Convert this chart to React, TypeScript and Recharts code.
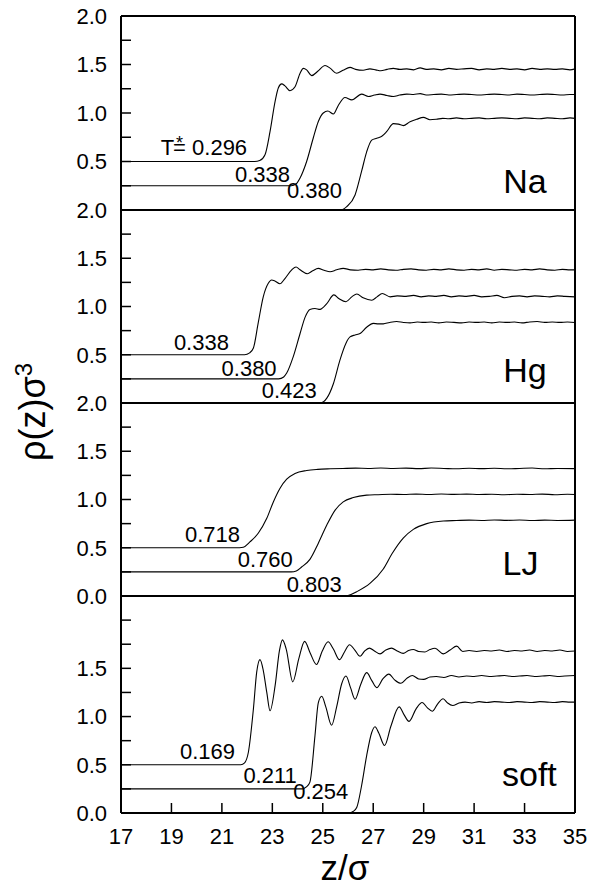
import { LineChart, Line, XAxis, YAxis, ReferenceDot, ReferenceLine } from "recharts";

type Pt = [number, number];

const zTicks = [17, 19, 21, 23, 25, 27, 29, 31, 33, 35];
const rhoTicks = [0, 0.25, 0.5, 0.75, 1, 1.25, 1.5, 1.75, 2];
const rhoTicksSoft = [0, 0.25, 0.5, 0.75, 1, 1.25, 1.5, 1.75, 2, 2.25];
const rhoLabelled = [
  [0.5, 1, 1.5, 2],
  [0.5, 1, 1.5, 2],
  [0, 0.5, 1, 1.5, 2],
  [0, 0.5, 1, 1.5],
];

// Na
const naT0296: Pt[] = [
  [17, 0.5], [22.3, 0.5], [22.5, 0.51], [22.71, 0.57], [22.91, 0.81], [23.11, 1.12], [23.24, 1.26], [23.37, 1.3],
  [23.5, 1.28], [23.7, 1.23], [23.9, 1.27], [24.1, 1.41], [24.23, 1.46], [24.36, 1.445], [24.56, 1.385], [24.8, 1.43],
  [25.09, 1.49], [25.3, 1.46], [25.55, 1.41], [25.8, 1.44], [26.08, 1.47], [26.3, 1.45], [26.6, 1.44], [26.87, 1.455],
  [27.1, 1.445], [27.3, 1.435], [27.55, 1.45], [27.8, 1.46], [28.05, 1.45], [28.33, 1.455], [28.6, 1.445], [28.86, 1.465],
  [29.1, 1.45], [29.4, 1.455], [29.7, 1.445], [30.0, 1.46], [30.3, 1.45], [30.6, 1.455], [30.9, 1.46], [31.2, 1.445],
  [31.5, 1.455], [31.8, 1.45], [32.1, 1.46], [32.4, 1.45], [32.7, 1.455], [33.0, 1.445], [33.3, 1.46], [33.6, 1.45],
  [33.9, 1.455], [34.2, 1.45], [34.5, 1.455], [34.8, 1.445], [35, 1.455],
];
const naT0338: Pt[] = [
  [17, 0.25], [23.75, 0.25], [23.95, 0.27], [24.1, 0.33], [24.36, 0.5], [24.62, 0.74], [24.82, 0.91], [25.02, 1.0],
  [25.2, 1.02], [25.42, 0.99], [25.62, 1.08], [25.88, 1.16], [26.15, 1.135], [26.54, 1.195], [26.81, 1.17], [27.05, 1.185],
  [27.27, 1.195], [27.55, 1.18], [27.8, 1.17], [28.05, 1.185], [28.33, 1.195], [28.6, 1.19], [28.86, 1.2], [29.1, 1.185],
  [29.4, 1.19], [29.7, 1.195], [30.0, 1.185], [30.3, 1.19], [30.6, 1.195], [30.9, 1.19], [31.2, 1.185], [31.5, 1.19],
  [31.8, 1.195], [32.1, 1.19], [32.4, 1.185], [32.7, 1.195], [33.0, 1.19], [33.3, 1.185], [33.6, 1.19], [33.9, 1.195],
  [34.2, 1.19], [34.5, 1.185], [34.8, 1.19], [35, 1.19],
];
const naT0380: Pt[] = [
  [17, 0], [25.7, 0], [25.95, 0.035], [26.28, 0.155], [26.54, 0.4], [26.74, 0.6], [26.94, 0.72], [27.14, 0.74],
  [27.34, 0.76], [27.54, 0.81], [27.8, 0.89], [28.0, 0.885], [28.19, 0.87], [28.46, 0.91], [28.72, 0.935], [28.99, 0.955],
  [29.25, 0.93], [29.5, 0.935], [29.75, 0.945], [30.0, 0.94], [30.3, 0.95], [30.6, 0.94], [30.9, 0.945], [31.2, 0.95],
  [31.5, 0.94], [31.8, 0.945], [32.1, 0.95], [32.4, 0.945], [32.7, 0.94], [33.0, 0.95], [33.3, 0.945], [33.6, 0.94],
  [33.9, 0.95], [34.2, 0.945], [34.5, 0.94], [34.8, 0.95], [35, 0.945],
];

// Hg
const hgT0338: Pt[] = [
  [17, 0.5], [21.9, 0.5], [22.1, 0.52], [22.25, 0.57], [22.44, 0.83], [22.64, 1.1], [22.84, 1.24], [22.97, 1.275],
  [23.1, 1.265], [23.3, 1.235], [23.5, 1.29], [23.77, 1.38], [23.94, 1.41], [24.1, 1.38], [24.39, 1.34], [24.6, 1.37],
  [24.82, 1.395], [25.05, 1.375], [25.29, 1.36], [25.55, 1.38], [25.81, 1.395], [26.1, 1.38], [26.4, 1.375], [26.7, 1.385],
  [27.0, 1.38], [27.3, 1.39], [27.6, 1.38], [27.9, 1.375], [28.2, 1.385], [28.5, 1.39], [28.8, 1.38], [29.1, 1.375],
  [29.4, 1.385], [29.7, 1.38], [30.0, 1.39], [30.3, 1.38], [30.6, 1.375], [30.9, 1.385], [31.2, 1.38], [31.5, 1.39],
  [31.8, 1.375], [32.1, 1.385], [32.4, 1.38], [32.7, 1.375], [33.0, 1.385], [33.3, 1.38], [33.6, 1.39], [33.9, 1.38],
  [34.2, 1.375], [34.5, 1.385], [34.8, 1.38], [35, 1.38],
];
const hgT0380: Pt[] = [
  [17, 0.25], [23.25, 0.25], [23.45, 0.27], [23.57, 0.31], [23.83, 0.48], [24.1, 0.72], [24.3, 0.89], [24.49, 0.97],
  [24.69, 0.98], [24.89, 0.97], [25.16, 1.03], [25.44, 1.12], [25.65, 1.08], [25.92, 1.05], [26.15, 1.1], [26.35, 1.13],
  [26.6, 1.09], [26.94, 1.065], [27.15, 1.1], [27.36, 1.135], [27.67, 1.1], [27.95, 1.11], [28.3, 1.105], [28.6, 1.115],
  [28.9, 1.1], [29.2, 1.11], [29.5, 1.105], [29.8, 1.115], [30.1, 1.1], [30.4, 1.11], [30.7, 1.105], [31.0, 1.115],
  [31.3, 1.1], [31.6, 1.105], [31.9, 1.115], [32.2, 1.09], [32.5, 1.105], [32.8, 1.11], [33.1, 1.1], [33.4, 1.11],
  [33.7, 1.105], [34.0, 1.1], [34.3, 1.11], [34.6, 1.105], [35, 1.1],
];
const hgT0423: Pt[] = [
  [17, 0], [24.9, 0], [25.16, 0.05], [25.42, 0.2], [25.68, 0.445], [25.92, 0.62], [26.08, 0.685], [26.28, 0.705],
  [26.48, 0.72], [26.74, 0.785], [27.0, 0.825], [27.2, 0.82], [27.4, 0.82], [27.65, 0.835], [27.93, 0.845], [28.2, 0.835],
  [28.46, 0.83], [28.75, 0.84], [29.0, 0.835], [29.3, 0.84], [29.6, 0.83], [29.9, 0.84], [30.2, 0.835], [30.5, 0.83],
  [30.8, 0.84], [31.1, 0.835], [31.4, 0.84], [31.7, 0.83], [32.0, 0.84], [32.3, 0.835], [32.6, 0.84], [32.9, 0.83],
  [33.2, 0.84], [33.5, 0.845], [33.8, 0.835], [34.1, 0.84], [34.4, 0.835], [34.7, 0.84], [35, 0.835],
];

// LJ
const ljT0718: Pt[] = [
  [17, 0.5], [21.7, 0.5], [21.85, 0.505], [22.11, 0.56], [22.44, 0.65], [22.78, 0.805], [23.04, 0.975], [23.3, 1.115],
  [23.57, 1.21], [23.9, 1.27], [24.36, 1.3], [24.8, 1.312], [25.3, 1.318], [25.8, 1.322], [26.3, 1.325], [26.8, 1.322],
  [27.3, 1.326], [27.8, 1.322], [28.3, 1.325], [28.8, 1.32], [29.3, 1.326], [29.8, 1.322], [30.3, 1.318], [30.8, 1.324],
  [31.3, 1.32], [31.8, 1.324], [32.3, 1.318], [32.8, 1.322], [33.3, 1.326], [33.8, 1.318], [34.3, 1.322], [35, 1.32],
];
const ljT0760: Pt[] = [
  [17, 0.25], [23.75, 0.25], [23.95, 0.26], [24.16, 0.3], [24.49, 0.38], [24.82, 0.545], [25.16, 0.735], [25.49, 0.89],
  [25.81, 0.975], [26.21, 1.02], [26.74, 1.045], [27.2, 1.05], [27.7, 1.055], [28.2, 1.052], [28.7, 1.056], [29.2, 1.052],
  [29.7, 1.057], [30.2, 1.053], [30.7, 1.056], [31.2, 1.052], [31.7, 1.055], [32.2, 1.05], [32.7, 1.054], [33.2, 1.052],
  [33.7, 1.056], [34.2, 1.05], [34.7, 1.055], [35, 1.052],
];
const ljT0803: Pt[] = [
  [17, 0], [25.8, 0], [26.0, 0.005], [26.35, 0.045], [26.87, 0.13], [27.4, 0.28], [27.75, 0.44], [28.19, 0.6],
  [28.59, 0.69], [29.12, 0.75], [29.78, 0.777], [30.3, 0.782], [30.8, 0.786], [31.3, 0.783], [31.8, 0.788], [32.3, 0.784],
  [32.8, 0.787], [33.3, 0.782], [33.8, 0.786], [34.3, 0.783], [35, 0.786],
];

// soft
const softT0169: Pt[] = [
  [17, 0.5], [21.75, 0.5], [21.9, 0.52], [22.05, 0.63], [22.25, 1.08], [22.38, 1.46], [22.51, 1.59], [22.64, 1.48],
  [22.78, 1.25], [22.91, 1.06], [23.11, 1.32], [23.28, 1.68], [23.4, 1.795], [23.55, 1.7], [23.81, 1.36], [24.05, 1.6],
  [24.28, 1.78], [24.5, 1.66], [24.75, 1.54], [24.98, 1.68], [25.21, 1.775], [25.42, 1.7], [25.66, 1.59], [25.86, 1.67],
  [26.06, 1.745], [26.27, 1.69], [26.48, 1.625], [26.66, 1.68], [26.85, 1.71], [27.05, 1.68], [27.27, 1.65], [27.5, 1.69],
  [27.73, 1.71], [27.95, 1.68], [28.19, 1.655], [28.4, 1.685], [28.59, 1.695], [28.8, 1.675], [29.05, 1.67], [29.25, 1.695],
  [29.45, 1.708], [29.78, 1.65], [30.05, 1.69], [30.31, 1.73], [30.55, 1.675], [30.8, 1.685], [31.1, 1.675], [31.4, 1.685],
  [31.7, 1.68], [32.0, 1.69], [32.3, 1.675], [32.6, 1.685], [32.9, 1.68], [33.2, 1.69], [33.5, 1.675], [33.8, 1.685],
  [34.1, 1.68], [34.4, 1.69], [34.7, 1.675], [35, 1.68],
];
const softT0211: Pt[] = [
  [17, 0.25], [24.2, 0.25], [24.35, 0.27], [24.49, 0.32], [24.69, 0.8], [24.82, 1.14], [24.96, 1.21], [25.12, 1.1],
  [25.35, 0.91], [25.55, 1.1], [25.75, 1.34], [25.92, 1.42], [26.1, 1.3], [26.28, 1.18], [26.5, 1.33], [26.74, 1.455],
  [26.95, 1.37], [27.14, 1.3], [27.38, 1.39], [27.62, 1.44], [27.85, 1.38], [28.1, 1.345], [28.35, 1.4], [28.55, 1.425],
  [28.8, 1.39], [29.0, 1.385], [29.25, 1.41], [29.5, 1.415], [29.8, 1.405], [30.1, 1.425], [30.4, 1.41], [30.7, 1.42],
  [31.0, 1.415], [31.3, 1.425], [31.6, 1.415], [31.9, 1.42], [32.2, 1.425], [32.5, 1.415], [32.8, 1.42], [33.1, 1.425],
  [33.4, 1.415], [33.7, 1.42], [34.0, 1.425], [34.3, 1.415], [34.6, 1.42], [35, 1.425],
];
const softT0254: Pt[] = [
  [17, 0], [26.05, 0], [26.2, 0.015], [26.35, 0.06], [26.54, 0.285], [26.74, 0.595], [26.94, 0.835], [27.07, 0.895],
  [27.22, 0.83], [27.45, 0.7], [27.7, 0.9], [28.03, 1.1], [28.22, 1.02], [28.42, 0.95], [28.7, 1.08], [28.94, 1.145],
  [29.15, 1.09], [29.34, 1.055], [29.55, 1.13], [29.77, 1.185], [29.95, 1.14], [30.15, 1.115], [30.4, 1.14], [30.64, 1.15],
  [30.9, 1.14], [31.2, 1.155], [31.5, 1.145], [31.8, 1.155], [32.1, 1.15], [32.4, 1.145], [32.7, 1.155], [33.0, 1.15],
  [33.3, 1.145], [33.6, 1.155], [33.9, 1.15], [34.2, 1.145], [34.5, 1.155], [34.8, 1.15], [35, 1.15],
];

const panelNames = ["Na", "Hg", "LJ", "soft"];
const panelCurves = [
  [naT0296, naT0338, naT0380],
  [hgT0338, hgT0380, hgT0423],
  [ljT0718, ljT0760, ljT0803],
  [softT0169, softT0211, softT0254],
];
const tempLabels = [
  ["0.296", "0.338", "0.380"],
  ["0.338", "0.380", "0.423"],
  ["0.718", "0.760", "0.803"],
  ["0.169", "0.211", "0.254"],
];
// right end / baseline of each temperature label, in (z, rho)
const tempLabelAt: Pt[][] = [
  [[22.0, 0.567], [23.7, 0.292], [25.76, 0.124]],
  [[21.28, 0.55], [23.17, 0.28], [24.76, 0.05]],
  [[21.72, 0.556], [23.81, 0.3], [25.75, 0.045]],
  [[21.52, 0.56], [23.97, 0.31], [26.01, 0.147]],
];
const nameAt: Pt[] = [[33.88, 0.18], [33.88, 0.22], [33.55, 0.22], [34.28, 0.28]];

const FONT = "'Liberation Sans', Arial, Helvetica, sans-serif";
const W = 597;
const PAD = 20;
const LAYOUT = [
  { top: 16, height: 194 },
  { top: 210, height: 193 },
  { top: 403, height: 193 },
  { top: 596, height: 217 },
];
const frame = { stroke: "#000", strokeWidth: 2 };
const tickLn = { stroke: "#000", strokeWidth: 1.5 };
const tickFont = { fill: "#000", fontSize: 22, fontFamily: FONT };

function TempLabel({ cx, cy, text, withT }: { cx: number; cy: number; text: string; withT: boolean }) {
  return (
    <text x={cx} y={cy} textAnchor="end" fontSize={22} fontFamily={FONT} fill="#000">
      {withT ? (
        <>
          <tspan>T</tspan>
          <tspan dx={2} dy={-6} fontSize={18}>*</tspan>
          <tspan dx={-10} dy={6}>{"= " + text}</tspan>
        </>
      ) : (
        text
      )}
    </text>
  );
}

function Panel({ idx }: { idx: number }) {
  const lay = LAYOUT[idx];
  const first = idx === 0;
  const last = idx === 3;
  const top = last ? 2.25 : 2;
  const ticks = last ? rhoTicksSoft : rhoTicks;
  const shown = rhoLabelled[idx];
  const xh = last ? 60 : 0;
  return (
    <div style={{ position: "absolute", left: 0, top: lay.top - PAD }}>
      <LineChart
        width={W}
        height={lay.height + 2 * PAD + xh}
        margin={{ top: PAD, right: 22, bottom: PAD, left: 61 }}
      >
        <XAxis
          dataKey="z"
          type="number"
          domain={[17, 35]}
          ticks={zTicks}
          interval={0}
          height={xh}
          stroke="#000"
          axisLine={frame}
          tickLine={last ? tickLn : false}
          tick={last ? tickFont : false}
          tickSize={-10}
          tickMargin={25}
        />
        {first && (
          <XAxis
            xAxisId="top"
            orientation="top"
            type="number"
            domain={[17, 35]}
            ticks={zTicks}
            interval={0}
            height={0}
            stroke="#000"
            axisLine={frame}
            tickLine={tickLn}
            tickSize={-10}
            tickFormatter={() => ""}
          />
        )}
        <YAxis
          yAxisId="l"
          type="number"
          domain={[0, top]}
          ticks={ticks}
          interval={0}
          width={60}
          stroke="#000"
          axisLine={frame}
          tickLine={tickLn}
          tickSize={-10}
          tickMargin={24}
          tick={tickFont}
          tickFormatter={(v: number) => (shown.includes(v) ? v.toFixed(1) : "")}
        />
        <YAxis
          yAxisId="r"
          orientation="right"
          type="number"
          domain={[0, top]}
          ticks={ticks}
          interval={0}
          width={0}
          stroke="#000"
          axisLine={frame}
          tickLine={tickLn}
          tickSize={-10}
          tickFormatter={() => ""}
        />
        {/* panel frame */}
        <ReferenceLine yAxisId="l" x={17} stroke="#000" strokeWidth={2} />
        <ReferenceLine yAxisId="l" x={35} stroke="#000" strokeWidth={2} />
        <ReferenceLine yAxisId="l" y={0} stroke="#000" strokeWidth={2} />
        <ReferenceLine yAxisId="l" y={top} stroke="#000" strokeWidth={2} />
        {panelCurves[idx].map((c, i) => (
          <Line
            key={i}
            yAxisId="l"
            data={c.map(([z, rho]) => ({ z, rho }))}
            dataKey="rho"
            type="monotone"
            stroke="#000"
            strokeWidth={1.1}
            dot={false}
            activeDot={false}
            isAnimationActive={false}
          />
        ))}
        {tempLabelAt[idx].map(([z, rho], i) => (
          <ReferenceDot
            key={"t" + i}
            yAxisId="l"
            x={z}
            y={rho}
            r={0}
            shape={(p: any) => (
              <TempLabel cx={p.cx} cy={p.cy} text={tempLabels[idx][i]} withT={first && i === 0} />
            )}
          />
        ))}
        <ReferenceDot
          yAxisId="l"
          x={nameAt[idx][0]}
          y={nameAt[idx][1]}
          r={0}
          shape={(p: any) => (
            <text x={p.cx} y={p.cy} textAnchor="end" fontSize={34} fontFamily={FONT} fill="#000">
              {panelNames[idx]}
            </text>
          )}
        />
      </LineChart>
    </div>
  );
}

export default function App() {
  return (
    <div style={{ position: "absolute", left: 0, top: 0, width: W, height: 890, background: "#fff" }}>
      {[0, 1, 2, 3].map((i) => (
        <Panel key={i} idx={i} />
      ))}
      <svg width={W} height={890} style={{ position: "absolute", left: 0, top: 0, pointerEvents: "none" }}>
        <text
          x={45}
          y={412}
          transform="rotate(-90 45 412)"
          textAnchor="middle"
          fontSize={36}
          fontFamily={FONT}
          fill="#000"
        >
          ρ(z)σ<tspan dy={-13} fontSize={24}>3</tspan>
        </text>
        <text x={345} y={880} textAnchor="middle" fontSize={35} fontFamily={FONT} fill="#000">
          z/σ
        </text>
      </svg>
    </div>
  );
}
